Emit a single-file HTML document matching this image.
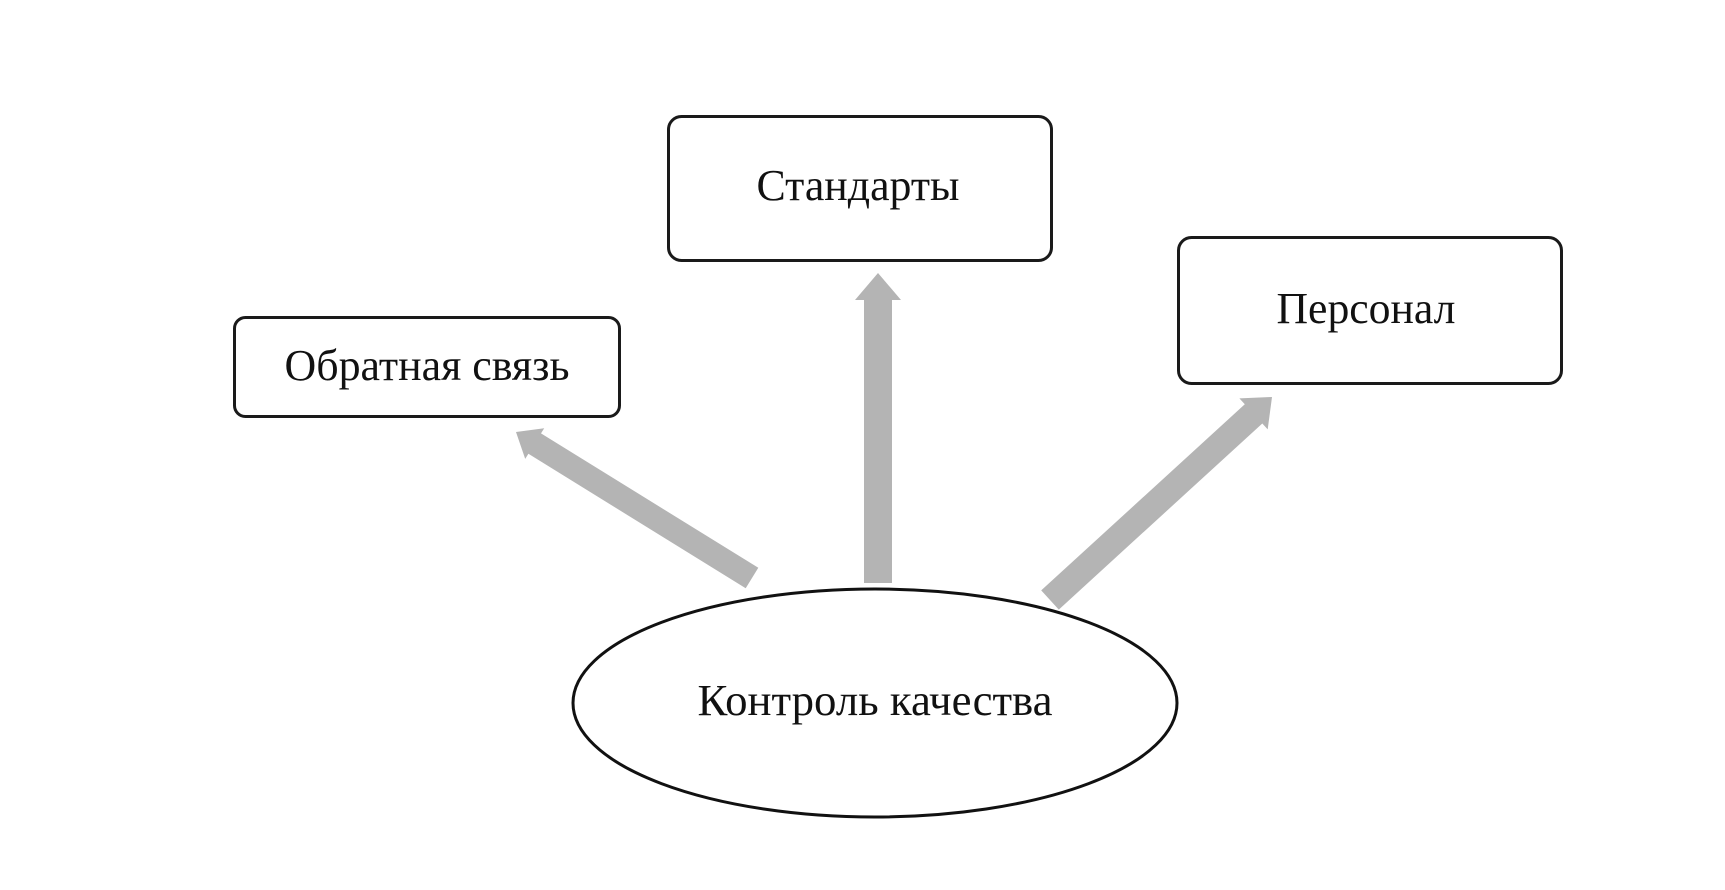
<!DOCTYPE html>
<html>
<head>
<meta charset="utf-8">
<style>
  html, body { margin: 0; padding: 0; background: #ffffff; }
  body { width: 1725px; height: 890px; overflow: hidden; }
  svg { display: block; }
  text { font-family: "Liberation Serif", "DejaVu Serif", serif; font-size: 44px; fill: #111111; }
</style>
</head>
<body>
<svg width="1725" height="890" viewBox="0 0 1725 890" xmlns="http://www.w3.org/2000/svg">
  <rect x="0" y="0" width="1725" height="890" fill="#ffffff"/>

  <!-- Boxes -->
  <rect x="234.5" y="317.5" width="385" height="99" rx="11" ry="11" fill="#ffffff" stroke="#1a1a1a" stroke-width="3"/>
  <rect x="668.5" y="116.5" width="383" height="144" rx="13" ry="13" fill="#ffffff" stroke="#1a1a1a" stroke-width="3"/>
  <rect x="1178.5" y="237.5" width="383" height="146" rx="13" ry="13" fill="#ffffff" stroke="#1a1a1a" stroke-width="3"/>

  <!-- Ellipse -->
  <ellipse cx="875" cy="703" rx="302" ry="114" fill="#ffffff" stroke="#111111" stroke-width="3"/>

  <!-- Arrows -->
  <polygon fill="#b4b4b4" points="758.3,567.8 541.0,433.4 544.2,428.3 516,432 525.2,458.9 528.4,453.8 745.7,588.2"/>
  <polygon fill="#b4b4b4" points="864,583 864,300 855,300 878,273 901,300 892,300 892,583"/>
  <polygon fill="#b4b4b4" points="1041.2,590.4 1244.8,404.3 1239.4,398.4 1272,397 1267.7,429.4 1262.3,423.5 1058.8,609.6"/>

  <!-- Labels -->
  <text x="427" y="380" text-anchor="middle" textLength="285" lengthAdjust="spacingAndGlyphs">Обратная связь</text>
  <text x="858" y="200" text-anchor="middle" textLength="203" lengthAdjust="spacingAndGlyphs">Стандарты</text>
  <text x="1366" y="323" text-anchor="middle" textLength="179" lengthAdjust="spacingAndGlyphs">Персонал</text>
  <text x="875" y="715" text-anchor="middle" textLength="355" lengthAdjust="spacingAndGlyphs">Контроль качества</text>
</svg>
</body>
</html>
